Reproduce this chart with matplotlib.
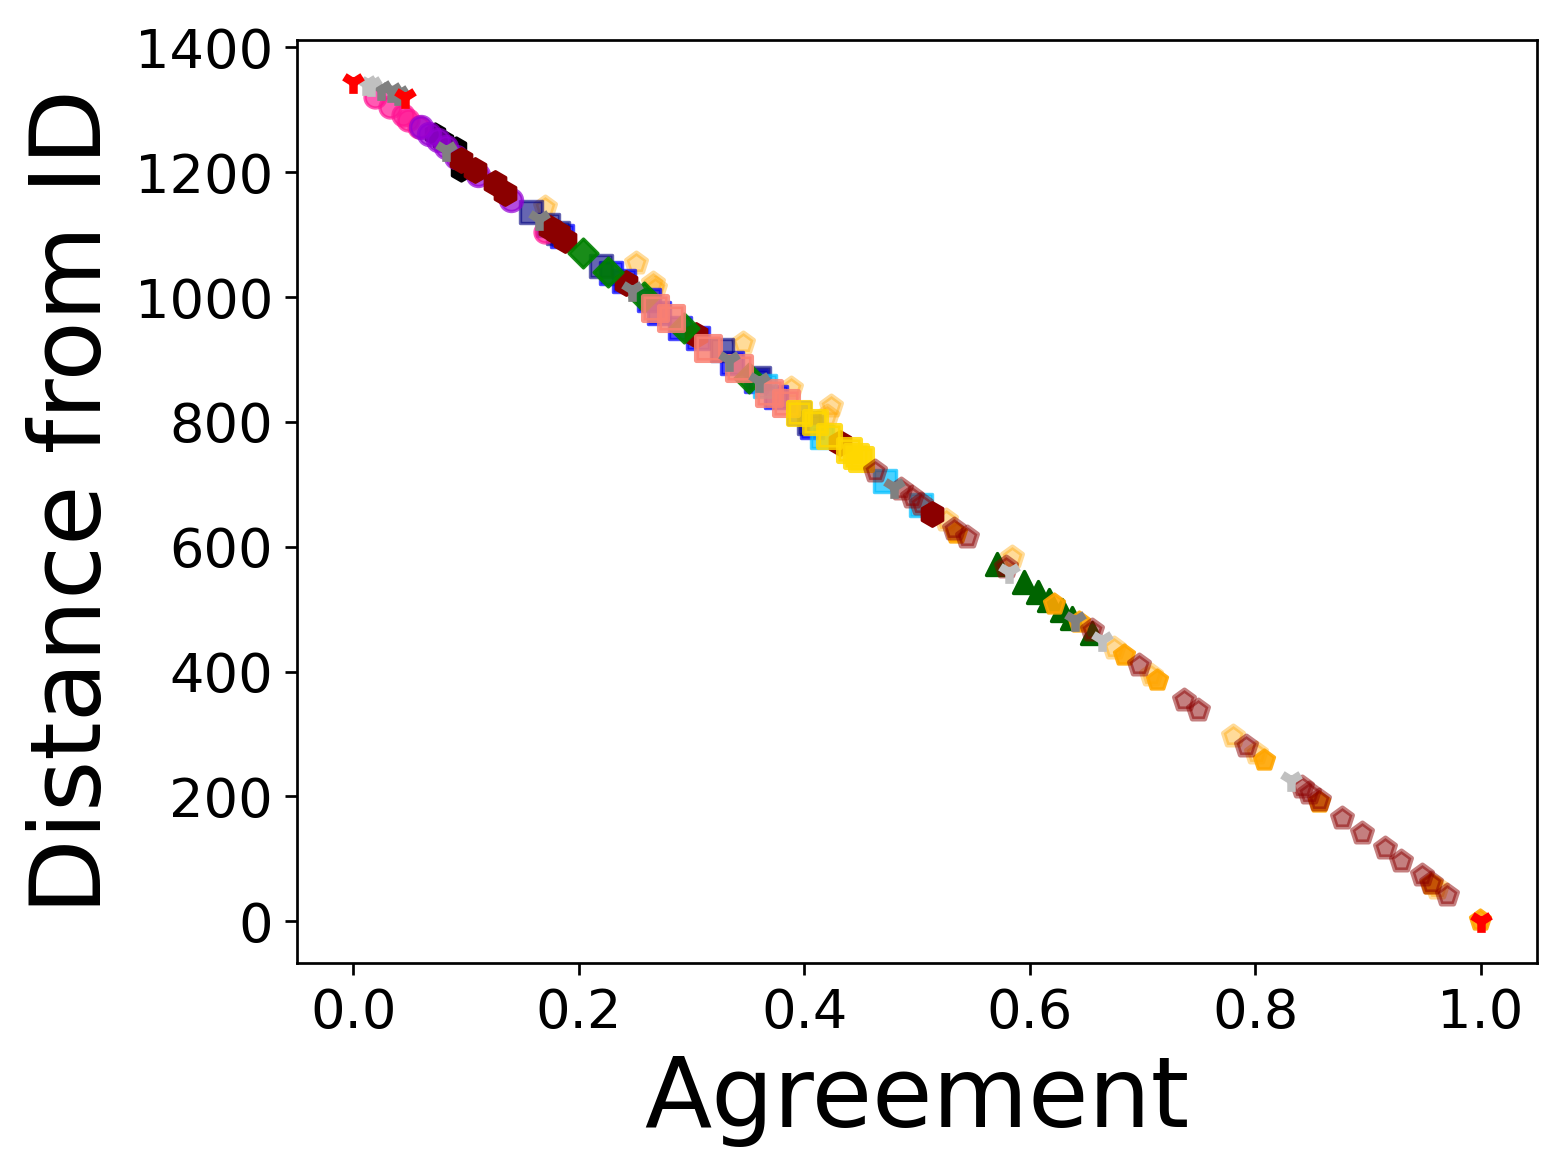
import matplotlib
matplotlib.use("Agg")
import matplotlib.pyplot as plt

# --- data (agreement, distance from ID) ---
red_tri_x = [0.000, 0.046, 1.000]
red_tri_y = [1344, 1321, 1]

lightgray_tri_x = [0.011, 0.016, 0.582, 0.664, 0.832]
lightgray_tri_y = [1341, 1339, 559, 450, 226]

gray_tri_x = [0.025, 0.034, 0.040, 0.082, 0.165, 0.247, 0.333, 0.360, 0.480, 0.640]
gray_tri_y = [1334, 1330, 1326, 1235, 1125, 1011, 899, 866, 696, 482]

pink_x = [0.019, 0.033, 0.044, 0.049, 0.058, 0.170]
pink_y = [1320, 1304, 1291, 1283, 1272, 1105]

violet_x = [0.060, 0.067, 0.075, 0.082, 0.091, 0.111, 0.140]
violet_y = [1272, 1262, 1251, 1240, 1224, 1195, 1155]

black_x = [0.073, 0.080, 0.091, 0.096]
black_y = [1262, 1250, 1238, 1203]

hex_x = [0.096, 0.108, 0.126, 0.135, 0.175, 0.182, 0.188, 0.242, 0.304, 0.432, 0.513]
hex_y = [1219, 1203, 1182, 1166, 1110, 1102, 1091, 1022, 939, 766, 653]

navy_x = [0.158, 0.173, 0.182, 0.220, 0.327, 0.360, 0.404]
navy_y = [1136, 1115, 1102, 1050, 915, 871, 798]

blue_x = [0.185, 0.229, 0.240, 0.262, 0.271, 0.290, 0.306, 0.336, 0.357, 0.375, 0.395, 0.407]
blue_y = [1098, 1038, 1026, 996, 974, 950, 935, 894, 866, 840, 815, 791]

green_x = [0.204, 0.226, 0.258, 0.293, 0.351]
green_y = [1070, 1040, 1000, 950, 871]

salmon_x = [0.268, 0.282, 0.315, 0.342, 0.369, 0.384]
salmon_y = [983, 966, 919, 887, 847, 830]

gold_x = [0.395, 0.410, 0.422, 0.440, 0.446, 0.450]
gold_y = [814, 800, 778, 755, 746, 740]

sky_x = [0.416, 0.472, 0.504, 0.365]
sky_y = [775, 706, 667, 858]

brown_x = [0.463, 0.486, 0.496, 0.504, 0.533, 0.544, 0.579, 0.655, 0.697, 0.737,
           0.749, 0.792, 0.842, 0.848, 0.857, 0.877, 0.895, 0.915, 0.929, 0.948,
           0.956, 0.970]
brown_y = [722, 693, 679, 669, 629, 615, 567, 466, 410, 354,
           338, 280, 215, 205, 194, 165, 141, 117, 96, 74,
           61, 42]

orange_x = [0.535, 0.622, 0.644, 0.684, 0.713, 0.808, 0.857, 0.956, 0.999]
orange_y = [622, 509, 479, 426, 386, 258, 191, 60, 2]

lightorange_x = [0.170, 0.251, 0.266, 0.268, 0.346, 0.388, 0.420, 0.424, 0.526,
                 0.584, 0.675, 0.708, 0.780, 0.801, 0.961]
lightorange_y = [1145, 1054, 1022, 1014, 927, 854, 810, 826, 642,
                 583, 437, 394, 296, 269, 53]

darkgreen_x = [0.571, 0.595, 0.607, 0.617, 0.629, 0.638, 0.655]
darkgreen_y = [573, 543, 527, 514, 498, 485, 461]

fig = plt.figure(figsize=(1562 / 244, 1173 / 244), dpi=244)
ax = fig.add_axes([0.190, 0.179, 0.794, 0.787])

ax.scatter(lightorange_x, lightorange_y, marker="p", s=38, color="orange", alpha=0.4, linewidths=1.5)
ax.scatter(blue_x, blue_y, marker="s", s=40, color="blue", alpha=0.7)
ax.scatter(navy_x, navy_y, marker="s", s=40, color="navy", alpha=0.6)
ax.scatter(sky_x, sky_y, marker="s", s=40, color="deepskyblue", alpha=0.7)
ax.scatter(black_x, black_y, marker="h", s=38, color="black")
ax.scatter(pink_x, pink_y, marker="o", s=38, color="deeppink", alpha=0.7)
ax.scatter(violet_x, violet_y, marker="o", s=42, color="darkviolet", alpha=0.7)
ax.scatter(hex_x, hex_y, marker="h", s=48, color="darkred")
ax.scatter(green_x, green_y, marker="D", s=36, color="green", alpha=0.9)
ax.scatter(salmon_x, salmon_y, marker="s", s=48, color="salmon", alpha=0.85, linewidths=1.5)
ax.scatter(gold_x, gold_y, marker="s", s=46, color="gold", alpha=0.85, linewidths=1.5)
ax.scatter(darkgreen_x, darkgreen_y, marker="^", s=42, color="darkgreen")
ax.scatter(orange_x, orange_y, marker="p", s=38, color="orange", alpha=0.9)
ax.scatter(brown_x, brown_y, marker="p", s=38, color="darkred", alpha=0.5, linewidths=1.5)
ax.scatter(gray_tri_x, gray_tri_y, marker="1", s=45, color="gray", linewidths=2.5)
ax.scatter(lightgray_tri_x, lightgray_tri_y, marker="1", s=45, color="silver", linewidths=2.5)
ax.scatter(red_tri_x, red_tri_y, marker="1", s=45, color="red", linewidths=2.5)

ax.set_xlim(-0.05, 1.05)
ax.set_ylim(-67, 1412)
ax.set_xticks([0.0, 0.2, 0.4, 0.6, 0.8, 1.0])
ax.set_yticks([0, 200, 400, 600, 800, 1000, 1200, 1400])
ax.tick_params(labelsize=16)
ax.set_xlabel("Agreement", fontsize=29)
ax.set_ylabel("Distance from ID", fontsize=29)

fig.savefig("out.png", dpi=244)
